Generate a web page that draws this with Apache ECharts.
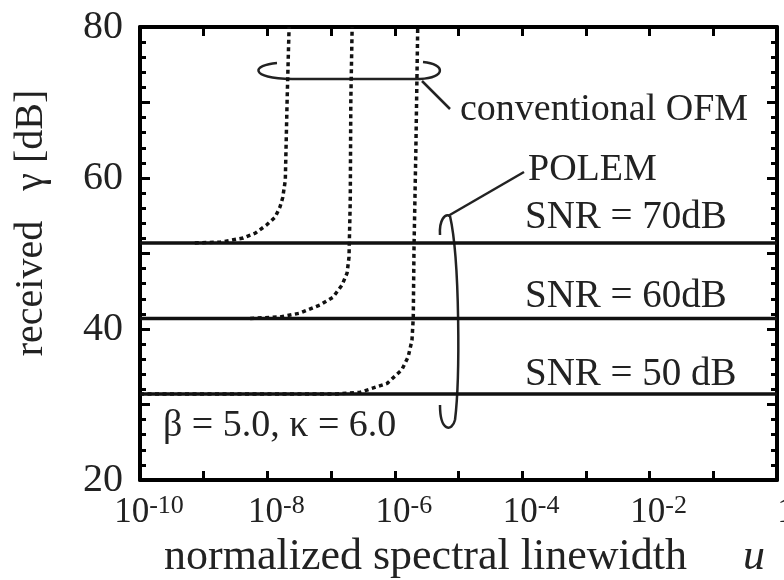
<!DOCTYPE html>
<html>
<head>
<meta charset="utf-8">
<script src="https://cdn.jsdelivr.net/npm/echarts@6/dist/echarts.min.js"></script>
<style>html,body{margin:0;padding:0;background:#fff;}#c{width:784px;height:580px;}</style>
</head>
<body>
<div id="c"></div>
<script>
// conventional OFM curves (u, received gamma dB)
var ofm70U = [7.24e-10, 1.82e-9, 4.17e-9, 6.46e-9, 9.77e-9, 1.32e-8, 1.58e-8, 1.74e-8, 1.91e-8, 2.04e-8, 2.19e-8];
var ofm70G = [51.4, 51.5, 52.05, 52.7, 53.8, 54.8, 56.2, 57.4, 59.7, 70.3, 80];
var ofm60U = [5.37e-9, 1.58e-8, 3.24e-8, 6.76e-8, 1.07e-7, 1.48e-7, 1.78e-7, 1.91e-7, 2.00e-7, 2.04e-7, 2.14e-7];
var ofm60G = [41.4, 41.6, 42.1, 43.2, 44.2, 45.8, 47.4, 49.5, 57.1, 70.3, 80];
var ofm50U = [1e-10, 1.23e-7, 2.82e-7, 7.59e-7, 1.29e-6, 1.62e-6, 1.86e-6, 1.95e-6, 2.00e-6, 2.14e-6, 2.29e-6];
var ofm50G = [31.4, 31.4, 31.6, 32.8, 34.6, 36.3, 38.5, 41.5, 50.5, 63.7, 80];
// POLEM flat levels
var polemU = [1e-10, 1];
var polem70 = [51.4, 51.4];
var polem60 = [41.4, 41.4];
var polem50 = [31.4, 31.4];
// axis
var xMin = 1e-10, xMax = 1;
var yMin = 20, yMax = 80, yStep = 10;

function pairs(u, g) { return u.map(function (v, i) { return [v, g[i]]; }); }

var FONT = '"Liberation Serif", "Times New Roman", serif';
var chart = echarts.init(document.getElementById('c'));

function xFmt(v) {
  var e = Math.round(Math.log10(v));
  if (e % 2 !== 0) return '';
  if (e === 0) return '{b|1}';
  return '{b|10}{s|' + e + '}';
}

var xAxisBase = {
  type: 'log', logBase: 10, min: xMin, max: xMax, interval: 1,
  axisLine: { show: true, lineStyle: { color: '#000', width: 4 } },
  axisTick: { show: true, inside: true, length: 9, lineStyle: { color: '#000', width: 3 } },
  minorTick: { show: false },
  splitLine: { show: false }
};
var yAxisBase = {
  type: 'value', min: yMin, max: yMax, interval: yStep,
  axisLine: { show: true, lineStyle: { color: '#000', width: 4 } },
  axisTick: { show: true, inside: true, length: 10, lineStyle: { color: '#000', width: 3 } },
  minorTick: { show: true, splitNumber: 5, length: 6, lineStyle: { color: '#000', width: 3 } },
  splitLine: { show: false }
};

var ann = { fill: null, stroke: '#222', lineWidth: 2.5 };

var option = {
  animation: false,
  backgroundColor: '#fff',
  grid: { left: 140, right: 7, top: 27, bottom: 100, outerBoundsMode: 'none', containLabel: false },
  xAxis: [
    Object.assign({}, xAxisBase, {
      position: 'bottom',
      axisLabel: {
        margin: 13, formatter: xFmt, color: '#222', fontFamily: FONT, padding: [0, 0, 0, 18],
        rich: {
          b: { fontSize: 35, lineHeight: 40, fontFamily: FONT, color: '#222' },
          s: { fontSize: 26, lineHeight: 26, verticalAlign: 'top', fontFamily: FONT, color: '#222' }
        }
      },
      name: '{n|normalized spectral linewidth}{u|u}',
      nameLocation: 'middle', nameGap: 55,
      nameTextStyle: {
        rich: {
          n: { fontSize: 44, fontFamily: FONT, color: '#222', padding: [0, 0, 0, 12] },
          u: { fontSize: 44, fontFamily: FONT, fontStyle: 'italic', color: '#222', padding: [0, 0, 0, 56] }
        }
      }
    }),
    Object.assign({}, xAxisBase, { position: 'top', axisLabel: { show: false } })
  ],
  yAxis: [
    Object.assign({}, yAxisBase, {
      position: 'left',
      axisLabel: {
        margin: 17, fontSize: 40, fontFamily: FONT, color: '#222',
        formatter: function (v) { return v % 20 === 0 ? String(v) : ''; }
      }
    }),
    Object.assign({}, yAxisBase, { position: 'right', axisLabel: { show: false } })
  ],
  series: [
    { type: 'line', data: pairs(ofm70U, ofm70G), symbol: 'none', lineStyle: { color: '#111', width: 3.5, type: [4, 3.5] } },
    { type: 'line', data: pairs(ofm60U, ofm60G), symbol: 'none', lineStyle: { color: '#111', width: 3.5, type: [4, 3.5] } },
    { type: 'line', data: pairs(ofm50U, ofm50G), symbol: 'none', lineStyle: { color: '#111', width: 3.5, type: [4, 3.5] } },
    { type: 'line', data: pairs(polemU, polem70), symbol: 'none', lineStyle: { color: '#111', width: 3.5 } },
    { type: 'line', data: pairs(polemU, polem60), symbol: 'none', lineStyle: { color: '#111', width: 3.5 } },
    { type: 'line', data: pairs(polemU, polem50), symbol: 'none', lineStyle: { color: '#111', width: 3.5 } }
  ],
  graphic: [
    { type: 'text', x: 31, y: 223, rotation: Math.PI / 2,
      style: { text: 'received   γ [dB]', font: '40px ' + FONT, fill: '#222', textAlign: 'center', textVerticalAlign: 'middle' } },
    { type: 'text', x: 460, y: 110, style: { text: 'conventional OFM', font: '38px ' + FONT, fill: '#222', textAlign: 'left', textVerticalAlign: 'middle' } },
    { type: 'text', x: 528, y: 170, style: { text: 'POLEM', font: '38px ' + FONT, fill: '#222', textAlign: 'left', textVerticalAlign: 'middle' } },
    { type: 'text', x: 525, y: 218, style: { text: 'SNR = 70dB', font: '39px ' + FONT, fill: '#222', textAlign: 'left', textVerticalAlign: 'middle' } },
    { type: 'text', x: 525, y: 297, style: { text: 'SNR = 60dB', font: '39px ' + FONT, fill: '#222', textAlign: 'left', textVerticalAlign: 'middle' } },
    { type: 'text', x: 525, y: 375, style: { text: 'SNR = 50 dB', font: '39px ' + FONT, fill: '#222', textAlign: 'left', textVerticalAlign: 'middle' } },
    { type: 'text', x: 163, y: 426, style: { text: 'β = 5.0, κ = 6.0', font: '38px ' + FONT, fill: '#222', textAlign: 'left', textVerticalAlign: 'middle' } },
    { type: 'bezierCurve', shape: { x1: 277, y1: 63, cpx1: 252, cpy1: 65, cpx2: 248, cpy2: 78, x2: 292, y2: 79 }, style: ann },
    { type: 'line', shape: { x1: 292, y1: 79, x2: 420, y2: 79 }, style: ann },
    { type: 'bezierCurve', shape: { x1: 420, y1: 79, cpx1: 446, cpy1: 78, cpx2: 446, cpy2: 64, x2: 423, y2: 62 }, style: ann },
    { type: 'line', shape: { x1: 422, y1: 81, x2: 450, y2: 109 }, style: ann },
    { type: 'bezierCurve', shape: { x1: 440, y1: 235, cpx1: 439, cpy1: 220, cpx2: 445, cpy2: 213, x2: 450, y2: 216 }, style: ann },
    { type: 'bezierCurve', shape: { x1: 450, y1: 216, cpx1: 460, cpy1: 260, cpx2: 460, cpy2: 380, x2: 455, y2: 420 }, style: ann },
    { type: 'bezierCurve', shape: { x1: 455, y1: 420, cpx1: 452, cpy1: 432, cpx2: 440, cpy2: 432, x2: 440, y2: 405 }, style: ann },
    { type: 'line', shape: { x1: 448, y1: 216, x2: 524, y2: 172 }, style: ann }
  ]
};
chart.setOption(option);
</script>
</body>
</html>
